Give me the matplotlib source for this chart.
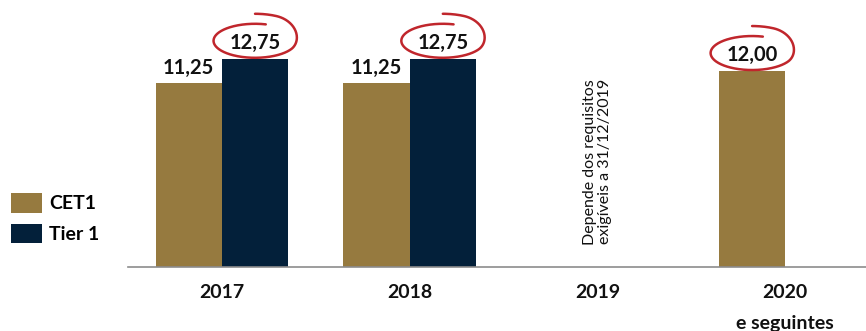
import numpy as np
import matplotlib
matplotlib.use("Agg")
import matplotlib.pyplot as plt
from matplotlib.patches import Patch
import matplotlib.transforms as mtransforms

plt.rcParams['font.family'] = ['Lato', 'DejaVu Sans']

# data
categories = ["2017", "2018", "2019", "2020\ne seguintes"]
cet1 = [11.25, 11.25, None, 12.00]
tier1 = [12.75, 12.75, None, None]
circled = [("tier1", 0), ("tier1", 1), ("cet1", 3)]
note_2019 = "Depende dos requisitos\nexigíveis a 31/12/2019"

gold = "#967A3F"
navy = "#03203A"
red = "#C0262C"

fig = plt.figure(figsize=(8.66, 3.31), dpi=100)
ax = fig.add_axes([128 / 866, 64 / 331, 738 / 866, 267 / 331])

x = np.arange(len(categories))
w = 0.353

def fmt(v):
    return f"{v:.2f}".replace(".", ",")

for i in x:
    if cet1[i] is not None:
        ax.bar(i - w / 2, cet1[i], w, color=gold)
        ax.annotate(fmt(cet1[i]), (i - w / 2, cet1[i]), xytext=(0, 7),
                    textcoords="offset points", ha="center", va="baseline",
                    fontsize=14.5, fontweight="bold", color="#111111")
    if tier1[i] is not None:
        ax.bar(i + w / 2, tier1[i], w, color=navy)
        ax.annotate(fmt(tier1[i]), (i + w / 2, tier1[i]), xytext=(0, 7),
                    textcoords="offset points", ha="center", va="baseline",
                    fontsize=14.5, fontweight="bold", color="#111111")

ax.text(2, 6.45, note_2019, rotation=90, ha="center", va="center",
        fontsize=11.5, color="#111111", linespacing=1.1)

# hand-drawn red loops: one clockwise lap that starts above and spirals in
t = np.linspace(np.radians(75), np.radians(450), 400)
s = np.clip((t - np.radians(330)) / np.radians(90), 0, 1)
grow = s * s * (3 - 2 * s)
rx, ry = 0.415, 0.17  # inches
for series, i in circled:
    v = tier1[i] if series == "tier1" else cet1[i]
    cx = i + w / 2 if series == "tier1" else i - w / 2
    xs = rx * np.cos(t) * (1 + 0.03 * grow)
    ys = ry * np.sin(t) + 0.10 * grow
    trans = fig.dpi_scale_trans + mtransforms.ScaledTranslation(cx, v, ax.transData)
    ax.plot(xs, ys + 0.18, color=red, lw=1.8, transform=trans, clip_on=False,
            solid_capstyle="round")

ax.set_xlim(-0.5, 3.43)
ax.set_ylim(0, 16.35)
ax.set_xticks(x)
ax.set_xticklabels(categories, fontsize=14, fontweight="bold", color="#111111",
                   linespacing=2.0)
ax.tick_params(axis="x", length=0, pad=12)
ax.set_yticks([])
for s_ in ["top", "left", "right"]:
    ax.spines[s_].set_visible(False)
ax.spines["bottom"].set_color("#8C8C8C")
ax.spines["bottom"].set_linewidth(1.2)

handles = [Patch(facecolor=gold, label="CET1"), Patch(facecolor=navy, label="Tier 1")]
fig.legend(handles=handles, loc="upper left", bbox_to_anchor=(-0.007, 0.47),
           frameon=False, prop={"size": 14, "weight": "bold"},
           handlelength=1.55, handleheight=1.2, handletextpad=0.4,
           labelspacing=0.55)

fig.savefig("out.png", dpi=100)
